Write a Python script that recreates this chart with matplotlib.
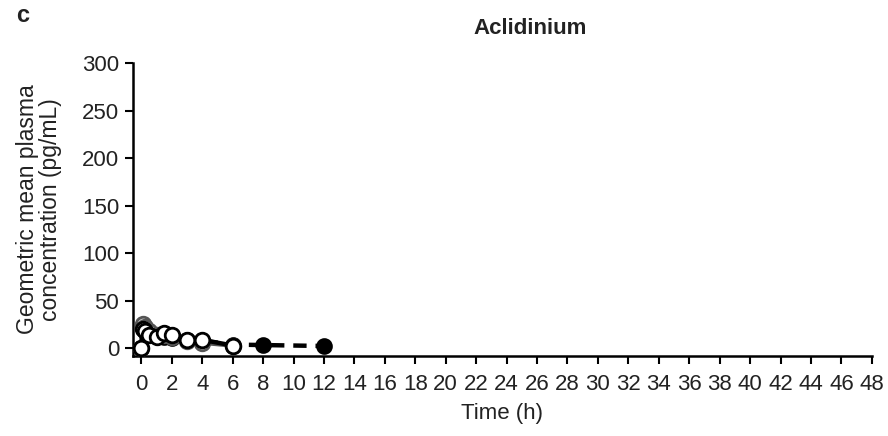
import numpy as np
import matplotlib.pyplot as plt

plt.rcParams['font.family'] = ['Liberation Sans', 'DejaVu Sans']

# Concentrations moyennes géométriques (pg/mL) par groupe
t_a = [0, 0.08, 0.25, 0.5, 1, 1.5, 2, 3, 4, 6, 8, 12]
c_a = [0, 24, 21, 17, 13, 12, 11, 9, 8, 4, 3.5, 2.5]

t_b = [0, 0.08, 0.25, 0.5, 1, 1.5, 2, 3, 4, 6]
c_b = [0, 26, 23, 18, 14, 14, 12, 8, 6, 3]

t_c = [0, 0.08, 0.25, 0.5, 1, 1.5, 2, 3, 4, 6]
c_c = [0, 20, 18, 14, 12, 16, 14, 9, 9, 3]

xticks = np.arange(0, 50, 2)
yticks = np.arange(0, 301, 50)

txt = '#222222'
fig = plt.figure(figsize=(8.88, 4.36), dpi=100)
ax = fig.add_axes([0.1498, 0.1835, 0.832, 0.672])

ax.plot(t_a, c_a, '--', color='black', lw=3.2, marker='o', ms=10.5,
        mfc='black', mec='black', mew=1.5, dashes=(3, 2), zorder=2)
ax.plot(t_b, c_b, '-', color='#555555', lw=3.2, marker='o', ms=10.5,
        mfc='#d0d0d0', mec='#555555', mew=2, zorder=3)
ax.plot(t_c, c_c, '-', color='black', lw=3.2, marker='o', ms=10.5,
        mfc='white', mec='black', mew=2, zorder=4)

ax.set_xlim(-0.55, 48)
ax.set_ylim(-8, 300)
ax.set_xticks(xticks)
ax.set_yticks(yticks)
ax.tick_params(direction='out', length=6, width=1.5, labelsize=16,
               labelcolor=txt)
ax.tick_params(axis='x', pad=7)
ax.tick_params(axis='y', pad=4)
for s in ['top', 'right']:
    ax.spines[s].set_visible(False)
for s in ['left', 'bottom']:
    ax.spines[s].set_linewidth(1.8)

ax.set_xlabel("Time (h)", fontsize=16, labelpad=6, color=txt)
ax.set_ylabel("Geometric mean plasma\nconcentration (pg/mL)", fontsize=16.5,
              labelpad=14, linespacing=1.05, color=txt)
fig.text(0.597, 0.935, "Aclidinium", fontsize=16, fontweight='bold',
         ha='center', va='center', color=txt)
fig.text(0.018, 0.965, "c", fontsize=17, fontweight='bold',
         ha='left', va='center', color=txt)

plt.savefig("out.png", dpi=100)
